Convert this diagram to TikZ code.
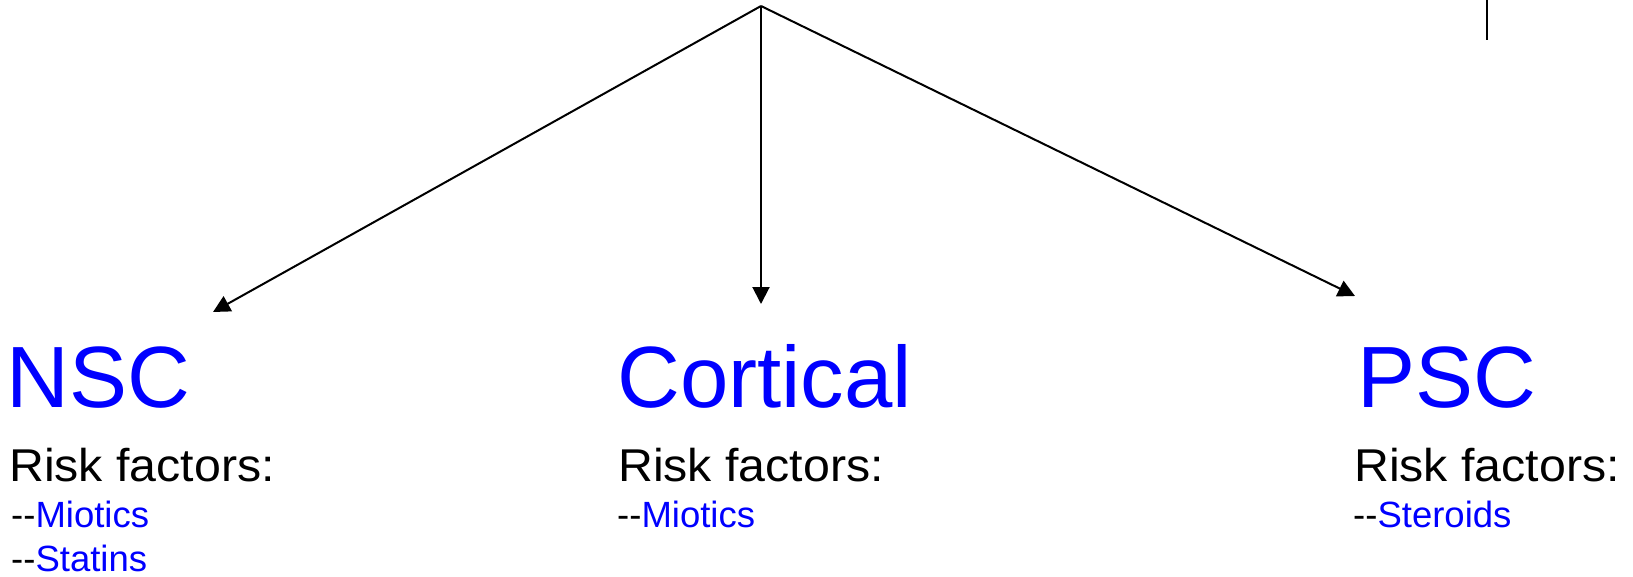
\documentclass[tikz,border=0pt]{standalone}
\usepackage{fontspec}
\setmainfont{Liberation Sans}
\usetikzlibrary{arrows.meta}
\definecolor{pblue}{RGB}{0,0,255}
\tikzset{
  lbl/.style={anchor=base west, inner sep=0pt},
  title/.style={lbl, text=pblue, font=\fontsize{87}{87}\selectfont},
  risk/.style={lbl, font=\fontsize{46}{46}\selectfont\addfontfeature{FakeStretch=1.05}},
  item/.style={lbl, font=\fontsize{36.5}{36.5}\selectfont},
  arr/.style={line width=2pt, -{Triangle[length=17pt,width=17pt]}}
}
\newcommand{\drug}[1]{-{}-\textcolor{pblue}{#1}}
\begin{document}
\begin{tikzpicture}[x=1pt,y=-1pt]
    \useasboundingbox (0,0) rectangle (1633,576);
    \coordinate (top) at (761,6);
    \coordinate (nsctip) at (213,312); \coordinate (cortip) at (761,304); \coordinate (psctip) at (1355,296);
    \node[title] (nsc) at (6,407) {NSC};
    \node[risk] (nscrisk) at (9,481) {Risk factors:};
    \node[item] (nscmio) at (11,527) {\drug{Miotics}};
    \node[item] (nscsta) at (11,571) {\drug{Statins}};
    \node[title] (cor) at (617,407) {Cortical};
    \node[risk] (corrisk) at (618,481) {Risk factors:};
    \node[item] (cormio) at (617,527) {\drug{Miotics}};
    \node[title] (psc) at (1357,407) {PSC};
    \node[risk] (pscrisk) at (1354,481) {Risk factors:};
    \node[item] (pscste) at (1353,527) {\drug{Steroids}};
    \draw[arr] (top) -- (nsctip);
    \draw[arr] (top) -- (cortip);
    \draw[arr] (top) -- (psctip);
    % stub at the top right
    \coordinate (stubtop) at (1487,0); \coordinate (stubend) at (1487,40);
    \draw[line width=2pt] (stubtop) -- (stubend);
\end{tikzpicture}
\end{document}
